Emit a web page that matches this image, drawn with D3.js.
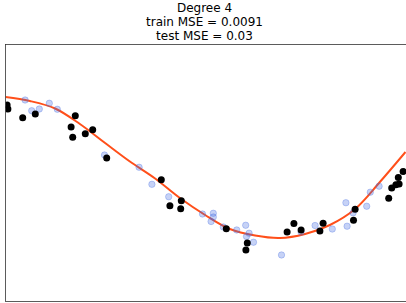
<!DOCTYPE html>
<html>
<head>
<meta charset="utf-8">
<script src="https://cdn.jsdelivr.net/npm/d3@7"></script>
<style>
  body { margin: 0; background: #fff; }
  svg { display: block; font-family: "DejaVu Sans", sans-serif; }
</style>
</head>
<body>
<svg></svg>
<script>
var titleLines = ["Degree 4", "train MSE = 0.0091", "test MSE = 0.03"];

// training samples (black)
var trainX = [0.004, 0.006, 0.043, 0.0745, 0.1745, 0.164, 0.168, 0.1995, 0.218, 0.253,
  0.3895, 0.411, 0.4395, 0.438, 0.552, 0.6045, 0.601, 0.704, 0.721, 0.739,
  0.786, 0.794, 0.870, 0.874, 0.958, 0.9655, 0.976, 0.984, 0.982, 0.994];
var trainY = [0.794, 0.747, 0.646, 0.689, 0.669, 0.537, 0.417, 0.459, 0.505, 0.175,
  -0.078, -0.382, -0.323, -0.417, -0.650, -0.817, -0.899, -0.689, -0.589, -0.665,
  -0.677, -0.587, -0.552, -0.424, -0.295, -0.175, -0.137, -0.128, -0.053, 0.018];

// test samples (light blue)
var testX = [0.049, 0.0655, 0.0845, 0.1095, 0.1295, 0.2475, 0.334, 0.366, 0.408, 0.4925,
  0.5195, 0.5195, 0.514, 0.5445, 0.578, 0.6005, 0.609, 0.6025, 0.620, 0.690,
  0.739, 0.774, 0.817, 0.851, 0.854, 0.869, 0.903, 0.912, 0.934];
var testY = [0.852, 0.727, 0.747, 0.814, 0.744, 0.210, 0.067, -0.132, -0.277, -0.479,
  -0.470, -0.514, -0.566, -0.630, -0.665, -0.610, -0.703, -0.741, -0.808, -0.957,
  -0.690, -0.613, -0.654, -0.347, -0.621, -0.465, -0.388, -0.224, -0.154];

// fitted degree 4 model
var modelX = [0, 0.061, 0.124, 0.186, 0.249, 0.311, 0.374, 0.436, 0.499, 0.561,
  0.624, 0.686, 0.749, 0.811, 0.874, 0.936, 1.0];
var modelY = [0.887, 0.840, 0.753, 0.572, 0.350, 0.134, -0.064, -0.292, -0.490, -0.654,
  -0.730, -0.759, -0.712, -0.607, -0.420, -0.105, 0.245];

var W = 406, H = 303;
var axLeft = 5.5, axRight = 406.5, axTop = 44.5, axBottom = 301.5;

var svg = d3.select("svg").attr("width", W).attr("height", H);

var x = d3.scaleLinear().domain([0, 1]).range([axLeft, 405.5]);
var y = d3.scaleLinear().domain([-1.5, 1.5]).range([axBottom, axTop]);

svg.append("clipPath").attr("id", "clip")
  .append("rect")
  .attr("x", axLeft).attr("y", axTop)
  .attr("width", axRight - axLeft).attr("height", axBottom - axTop);

var plot = svg.append("g").attr("clip-path", "url(#clip)");

var line = d3.line()
  .x(function(d) { return x(d[0]); })
  .y(function(d) { return y(d[1]); })
  .curve(d3.curveCatmullRom);

plot.append("path")
  .datum(d3.zip(modelX, modelY))
  .attr("d", line)
  .attr("fill", "none")
  .attr("stroke", "#ff4f1a")
  .attr("stroke-width", 2);

plot.append("g").selectAll("circle")
  .data(d3.zip(testX, testY))
  .enter().append("circle")
  .attr("cx", function(d) { return x(d[0]); })
  .attr("cy", function(d) { return y(d[1]); })
  .attr("r", 3.2)
  .attr("fill", "royalblue")
  .attr("fill-opacity", 0.3)
  .attr("stroke", "royalblue")
  .attr("stroke-opacity", 0.3)
  .attr("stroke-width", 1);

plot.append("g").selectAll("circle")
  .data(d3.zip(trainX, trainY))
  .enter().append("circle")
  .attr("cx", function(d) { return x(d[0]); })
  .attr("cy", function(d) { return y(d[1]); })
  .attr("r", 3.5)
  .attr("fill", "#000");

// axes frame, no ticks
svg.append("rect")
  .attr("x", axLeft).attr("y", axTop)
  .attr("width", axRight - axLeft).attr("height", axBottom - axTop)
  .attr("fill", "none")
  .attr("stroke", "#333")
  .attr("stroke-width", 0.8);

svg.append("g").selectAll("text")
  .data(titleLines)
  .enter().append("text")
  .attr("x", 204.5)
  .attr("y", function(d, i) { return 12 + i * 14; })
  .attr("text-anchor", "middle")
  .attr("font-size", 12)
  .attr("fill", "#000")
  .text(function(d) { return d; });
</script>
</body>
</html>
